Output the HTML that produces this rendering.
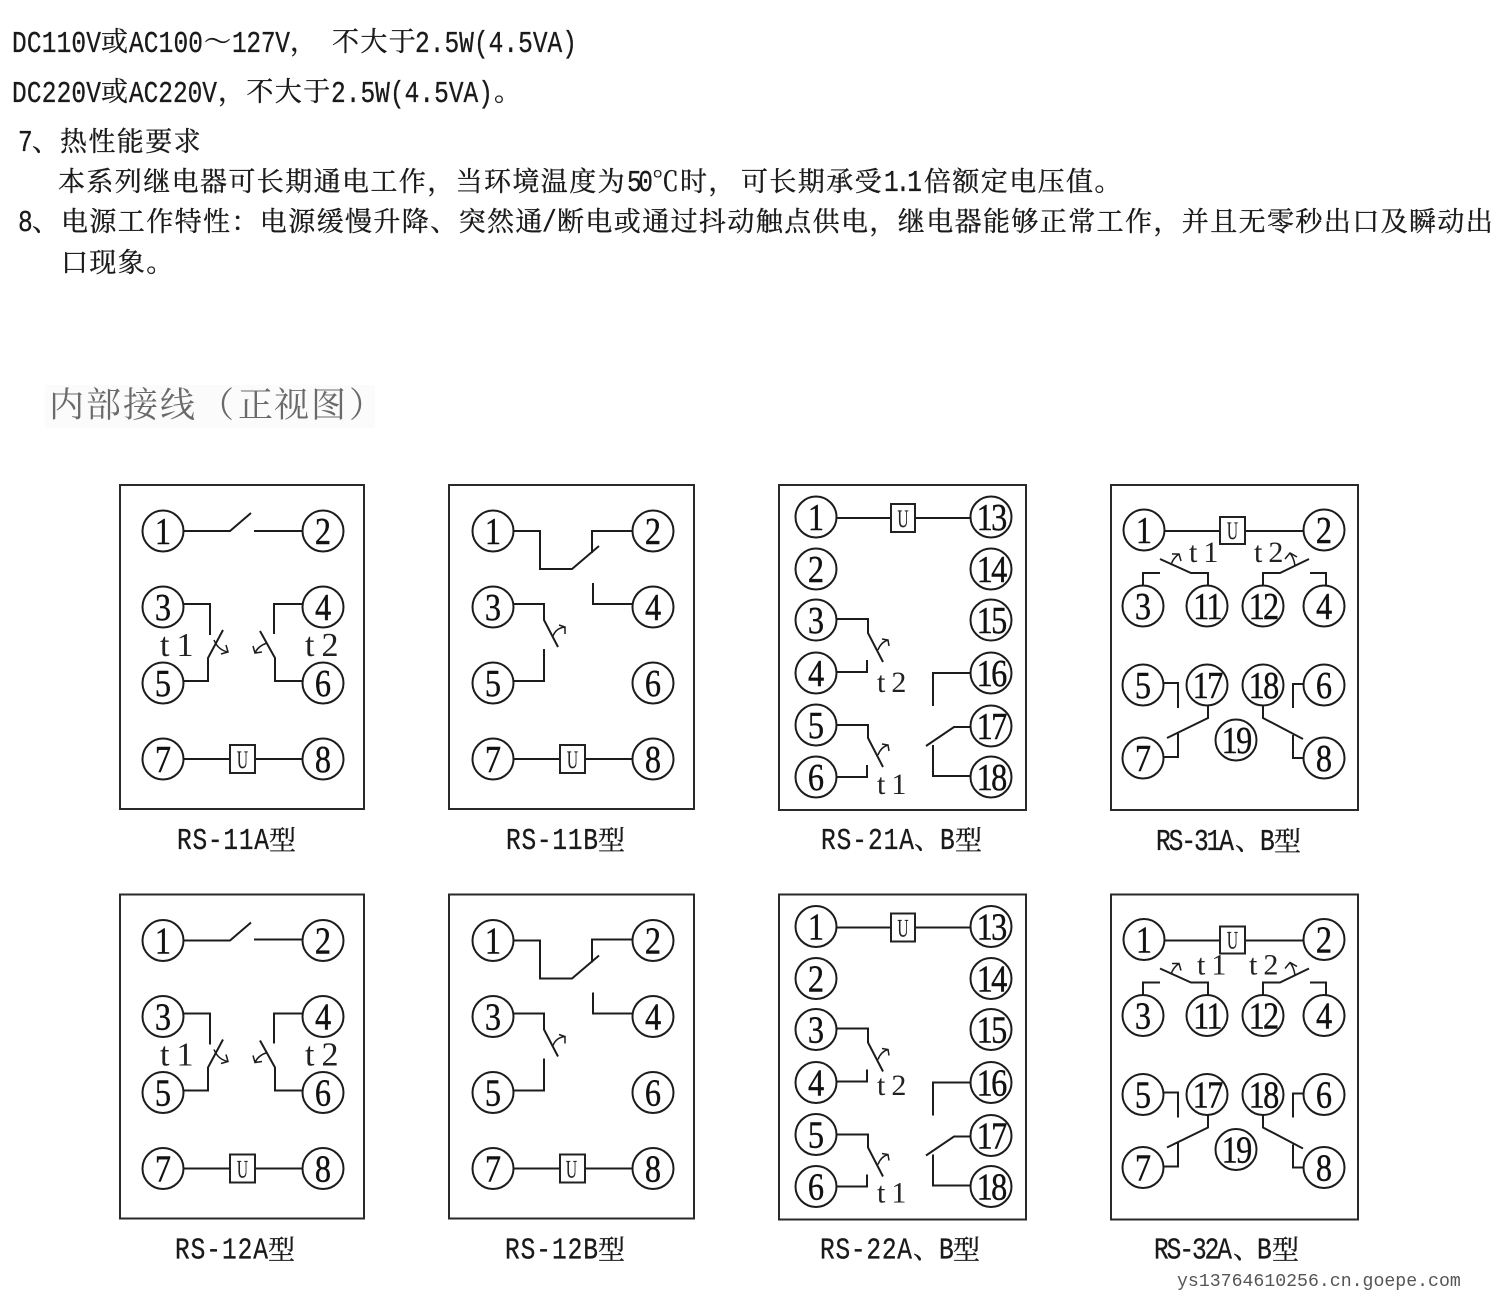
<!DOCTYPE html>
<html lang="zh">
<head>
<meta charset="utf-8">
<title>内部接线（正视图）</title>
<style>
html,body{margin:0;padding:0;background:#fff}
svg{display:block}
.c{font-family:"Noto Serif CJK SC",serif;font-size:27px;fill:#1a1a1a;stroke:#1a1a1a;stroke-width:.35;letter-spacing:1.4px}
.l{font-family:"Liberation Mono",monospace;font-size:24.5px;fill:#1a1a1a;stroke:#1a1a1a;stroke-width:.25}
.h{font-family:"Noto Serif CJK SC","Noto Sans CJK SC",serif;font-size:35px;fill:#6a6a6a}
.m{font-family:"Noto Serif CJK SC",serif;font-size:27px;fill:#1a1a1a;stroke:#1a1a1a;stroke-width:.35}
.p{fill:none;stroke:#2a2a2a;stroke-width:2}
.w{fill:none;stroke:#1c1c1c;stroke-width:2}
.a{fill:none;stroke:#1c1c1c;stroke-width:1.5}
circle{fill:#fff;stroke:#1c1c1c;stroke-width:2}
.b{fill:#fff;stroke:#222;stroke-width:2}
.n{font-family:"Liberation Serif",serif;font-size:38px;fill:#111;stroke:#111;stroke-width:.4;text-anchor:middle;transform-box:fill-box;transform-origin:center;transform:scaleX(.85)}
.d{letter-spacing:-2px}
.u{font-family:"Liberation Serif",serif;font-size:25px;fill:#222;stroke:#222;stroke-width:.2;text-anchor:middle;transform-box:fill-box;transform-origin:center;transform:scaleX(.62)}
.t{font-family:"Liberation Serif",serif;font-size:34px;fill:#222;letter-spacing:7px}
.s{font-family:"Liberation Serif",serif;font-size:30px;fill:#222;letter-spacing:6px}
.wm{font-family:"Liberation Mono",monospace;font-size:18.2px;fill:#555}
</style>
</head>
<body>
<svg xmlns="http://www.w3.org/2000/svg" width="1495" height="1299" viewBox="0 0 1495 1299">
<rect width="1495" height="1299" fill="#fff"/>

<text class="l" transform="translate(12,52) scale(1,1.25)" textLength="89">DC110V</text>
<text class="m" x="101" y="51">或</text>
<text class="l" transform="translate(129,52) scale(1,1.25)" textLength="74">AC100</text>
<text class="m" x="204" y="51">～</text>
<text class="l" transform="translate(232,52) scale(1,1.25)" textLength="58">127V</text>
<text class="m" x="290" y="51">，</text>
<text class="c" x="332" y="51">不大于</text>
<text class="l" transform="translate(415,52) scale(1,1.25)" textLength="162">2.5W(4.5VA)</text>

<text class="l" transform="translate(12,102) scale(1,1.25)" textLength="89">DC220V</text>
<text class="m" x="101" y="101">或</text>
<text class="l" transform="translate(129,102) scale(1,1.25)" textLength="88">AC220V</text>
<text class="c" x="218" y="101">，不大于</text>
<text class="l" transform="translate(331,102) scale(1,1.25)" textLength="162">2.5W(4.5VA)</text>
<text class="m" x="494" y="101">。</text>

<text class="l" transform="translate(18,151) scale(1,1.25)">7</text>
<text class="m" x="32" y="151">、</text>
<text class="c" x="60" y="151">热性能要求</text>

<text class="c" x="58" y="191">本系列继电器可长期通电工作，当环境温度为</text>
<text class="l" transform="translate(627,191) scale(1,1.25)" textLength="26">50</text>
<text class="m" x="652" y="191">℃</text>
<text class="c" x="680" y="191">时，</text>
<text class="c" x="741" y="191">可长期承受</text>
<text class="l" transform="translate(884,191) scale(1,1.25)" textLength="38">1.1</text>
<text class="c" x="924" y="191">倍额定电压值。</text>

<text class="l" transform="translate(18,231) scale(1,1.25)">8</text>
<text class="m" x="32" y="231">、</text>
<text class="c" x="61" y="231">电源工作特性：电源缓慢升降、突然通</text>
<text class="l" transform="translate(542,231) scale(1,1.25)">/</text>
<text class="c" x="557" y="231">断电或通过抖动触点供电，继电器能够正常工作，并且无零秒出口及瞬动出</text>
<text class="c" x="61" y="272">口现象。</text>

<rect x="45" y="385" width="330" height="43" fill="#fbfbfb"/>
<text class="h" x="49 86 123 160 199 238 274 311 349" y="417">内部接线（正视图）</text>

<!-- RS-11A -->
<g>
<rect class="p" x="120" y="485" width="244" height="324"/>
<path class="w" d="M184 531H230L251 513M254 531H303M184 604H210V635M223 630L208 658V681H184M303 604H274V634M260 631L275 658V681H303"/>
<path class="a" d="M214 640Q218 650 228 652M221 654L228 652L226 645M267 643Q258 646 255 653M253 646L255 653L262 652"/>
<path class="w" d="M184 759H303"/>
<rect class="b" x="230" y="745" width="25" height="28"/>
<text class="u" x="242.5" y="768">U</text>
<circle cx="163" cy="531" r="20.5"/><text class="n" x="163" y="544">1</text>
<circle cx="323" cy="531" r="20.5"/><text class="n" x="323" y="544">2</text>
<circle cx="163" cy="607" r="20.5"/><text class="n" x="163" y="620">3</text>
<circle cx="323" cy="607" r="20.5"/><text class="n" x="323" y="620">4</text>
<circle cx="163" cy="683" r="20.5"/><text class="n" x="163" y="696">5</text>
<circle cx="323" cy="683" r="20.5"/><text class="n" x="323" y="696">6</text>
<circle cx="163" cy="759" r="20.5"/><text class="n" x="163" y="772">7</text>
<circle cx="323" cy="759" r="20.5"/><text class="n" x="323" y="772">8</text>
<text class="t" x="160" y="656">t1</text>
<text class="t" x="305" y="656">t2</text>
<text class="l" transform="translate(177,849) scale(1,1.25)" textLength="92">RS-11A</text>
<text class="m" x="269" y="850">型</text>
</g>

<!-- RS-11B -->
<g>
<rect class="p" x="449" y="485" width="245" height="324"/>
<path class="w" d="M513 531H540V569H572L599 546M633 531H592V553M593 583V604H633M513 604H544V620L558 647M513 681H544V649"/>
<path class="a" d="M553 636Q556 628 565 627M559 625L565 627L565 634"/>
<path class="w" d="M513 759H633"/>
<rect class="b" x="560" y="745" width="25" height="28"/>
<text class="u" x="572.5" y="768">U</text>
<circle cx="493" cy="531" r="20.5"/><text class="n" x="493" y="544">1</text>
<circle cx="653" cy="531" r="20.5"/><text class="n" x="653" y="544">2</text>
<circle cx="493" cy="607" r="20.5"/><text class="n" x="493" y="620">3</text>
<circle cx="653" cy="607" r="20.5"/><text class="n" x="653" y="620">4</text>
<circle cx="493" cy="683" r="20.5"/><text class="n" x="493" y="696">5</text>
<circle cx="653" cy="683" r="20.5"/><text class="n" x="653" y="696">6</text>
<circle cx="493" cy="759" r="20.5"/><text class="n" x="493" y="772">7</text>
<circle cx="653" cy="759" r="20.5"/><text class="n" x="653" y="772">8</text>
<text class="l" transform="translate(506,849) scale(1,1.25)" textLength="92">RS-11B</text>
<text class="m" x="598" y="850">型</text>
</g>

<!-- RS-21A,B -->
<g>
<rect class="p" x="779" y="485" width="247" height="325"/>
<path class="w" d="M837 518H970M837 619H868V633L883 662M837 672H867V660M970 673H933V706M837 725H868V738L883 767M837 777H867V765M970 727H954L926 746M970 776H933V745"/>
<path class="a" d="M878 650Q881 642 888 640M882 639L888 640L889 646M878 755Q881 747 888 745M882 744L888 745L889 751"/>
<rect class="b" x="891" y="504" width="24" height="28"/>
<text class="u" x="903" y="527">U</text>
<circle cx="816" cy="517" r="20.5"/><text class="n" x="816" y="530">1</text>
<circle cx="991" cy="517" r="20.5"/><text class="n d" x="991" y="530">13</text>
<circle cx="816" cy="569" r="20.5"/><text class="n" x="816" y="582">2</text>
<circle cx="991" cy="569" r="20.5"/><text class="n d" x="991" y="582">14</text>
<circle cx="816" cy="620" r="20.5"/><text class="n" x="816" y="633">3</text>
<circle cx="991" cy="620" r="20.5"/><text class="n d" x="991" y="633">15</text>
<circle cx="816" cy="673" r="20.5"/><text class="n" x="816" y="686">4</text>
<circle cx="991" cy="673" r="20.5"/><text class="n d" x="991" y="686">16</text>
<circle cx="816" cy="725" r="20.5"/><text class="n" x="816" y="738">5</text>
<circle cx="991" cy="726" r="20.5"/><text class="n d" x="991" y="739">17</text>
<circle cx="816" cy="777" r="20.5"/><text class="n" x="816" y="790">6</text>
<circle cx="991" cy="777" r="20.5"/><text class="n d" x="991" y="790">18</text>
<text class="s" x="877" y="692">t2</text>
<text class="s" x="877" y="794">t1</text>
<text class="l" transform="translate(821,849) scale(1,1.25)" textLength="93">RS-21A</text>
<text class="m" x="914" y="849">、</text>
<text class="l" transform="translate(940,849) scale(1,1.25)">B</text>
<text class="m" x="955" y="850">型</text>
</g>

<!-- RS-31A,B -->
<g>
<rect class="p" x="1111" y="485" width="247" height="325"/>
<path class="w" d="M1164 531H1304M1160 559L1191 573H1208V586M1143 586V573H1160M1263 586V573H1280L1309 559M1310 573H1326V586M1163 683H1178V708M1208 706V718L1167 738M1163 757H1178V733M1263 705V718L1303 739M1303 758H1293V735M1303 684H1293V708"/>
<path class="a" d="M1171 565Q1173 558 1179 554M1172 554L1179 554L1181 561M1295 566Q1294 558 1290 553M1285 559L1290 553L1297 557"/>
<rect class="b" x="1220" y="517" width="25" height="27"/>
<text class="u" x="1232.5" y="539">U</text>
<circle cx="1144" cy="530" r="20.5"/><text class="n" x="1144" y="543">1</text>
<circle cx="1324" cy="530" r="20.5"/><text class="n" x="1324" y="543">2</text>
<circle cx="1143" cy="606" r="20.5"/><text class="n" x="1143" y="619">3</text>
<circle cx="1207" cy="606" r="20.5"/><text class="n d" x="1207" y="619">11</text>
<circle cx="1263" cy="606" r="20.5"/><text class="n d" x="1263" y="619">12</text>
<circle cx="1324" cy="606" r="20.5"/><text class="n" x="1324" y="619">4</text>
<circle cx="1143" cy="685" r="20.5"/><text class="n" x="1143" y="698">5</text>
<circle cx="1207" cy="685" r="20.5"/><text class="n d" x="1207" y="698">17</text>
<circle cx="1263" cy="685" r="20.5"/><text class="n d" x="1263" y="698">18</text>
<circle cx="1324" cy="685" r="20.5"/><text class="n" x="1324" y="698">6</text>
<circle cx="1143" cy="758" r="20.5"/><text class="n" x="1143" y="771">7</text>
<circle cx="1236" cy="740" r="20.5"/><text class="n d" x="1236" y="753">19</text>
<circle cx="1324" cy="758" r="20.5"/><text class="n" x="1324" y="771">8</text>
<text class="s" x="1189" y="562">t1</text>
<text class="s" x="1254" y="562">t2</text>
<text class="l" transform="translate(1156,850) scale(1,1.25)" textLength="78">RS-31A</text>
<text class="m" x="1235" y="850">、</text>
<text class="l" transform="translate(1260,850) scale(1,1.25)">B</text>
<text class="m" x="1274" y="851">型</text>
</g>

<!-- RS-12A -->
<g transform="translate(0,409.5)">
<rect class="p" x="120" y="485" width="244" height="324"/>
<path class="w" d="M184 531H230L251 513M254 530H303M184 604H210V635M223 630L208 658V681H184M303 604H274V634M260 631L275 658V681H303"/>
<path class="a" d="M214 640Q218 650 228 652M221 654L228 652L226 645M267 643Q258 646 255 653M253 646L255 653L262 652"/>
<path class="w" d="M184 759H303"/>
<rect class="b" x="230" y="745" width="25" height="28"/>
<text class="u" x="242.5" y="768">U</text>
<circle cx="163" cy="531" r="20.5"/><text class="n" x="163" y="544">1</text>
<circle cx="323" cy="531" r="20.5"/><text class="n" x="323" y="544">2</text>
<circle cx="163" cy="607" r="20.5"/><text class="n" x="163" y="620">3</text>
<circle cx="323" cy="607" r="20.5"/><text class="n" x="323" y="620">4</text>
<circle cx="163" cy="683" r="20.5"/><text class="n" x="163" y="696">5</text>
<circle cx="323" cy="683" r="20.5"/><text class="n" x="323" y="696">6</text>
<circle cx="163" cy="759" r="20.5"/><text class="n" x="163" y="772">7</text>
<circle cx="323" cy="759" r="20.5"/><text class="n" x="323" y="772">8</text>
<text class="t" x="160" y="656">t1</text>
<text class="t" x="305" y="656">t2</text>
<text class="l" transform="translate(175,849) scale(1,1.25)" textLength="93">RS-12A</text>
<text class="m" x="268" y="850">型</text>
</g>

<!-- RS-12B -->
<g transform="translate(0,409.5)">
<rect class="p" x="449" y="485" width="245" height="324"/>
<path class="w" d="M513 531H540V569H572L599 546M633 530H592V553M593 583V604H633M513 604H544V620L558 647M513 681H544V649"/>
<path class="a" d="M553 636Q556 628 565 627M559 625L565 627L565 634"/>
<path class="w" d="M513 759H633"/>
<rect class="b" x="560" y="745" width="25" height="28"/>
<text class="u" x="571.5" y="768">U</text>
<circle cx="493" cy="531" r="20.5"/><text class="n" x="493" y="544">1</text>
<circle cx="653" cy="531" r="20.5"/><text class="n" x="653" y="544">2</text>
<circle cx="493" cy="607" r="20.5"/><text class="n" x="493" y="620">3</text>
<circle cx="653" cy="607" r="20.5"/><text class="n" x="653" y="620">4</text>
<circle cx="493" cy="683" r="20.5"/><text class="n" x="493" y="696">5</text>
<circle cx="653" cy="683" r="20.5"/><text class="n" x="653" y="696">6</text>
<circle cx="493" cy="759" r="20.5"/><text class="n" x="493" y="772">7</text>
<circle cx="653" cy="759" r="20.5"/><text class="n" x="653" y="772">8</text>
<text class="l" transform="translate(505,849) scale(1,1.25)" textLength="93">RS-12B</text>
<text class="m" x="598" y="850">型</text>
</g>

<!-- RS-22A,B -->
<g transform="translate(0,409.5)">
<rect class="p" x="779" y="485" width="247" height="325"/>
<path class="w" d="M837 518H970M837 619H868V633L883 662M837 672H867V660M970 673H933V706M837 725H868V738L883 767M837 777H867V765M970 727H954L926 746M970 776H933V745"/>
<path class="a" d="M878 650Q881 642 888 640M882 639L888 640L889 646M878 755Q881 747 888 745M882 744L888 745L889 751"/>
<rect class="b" x="891" y="504" width="24" height="28"/>
<text class="u" x="903" y="527">U</text>
<circle cx="816" cy="517" r="20.5"/><text class="n" x="816" y="530">1</text>
<circle cx="991" cy="517" r="20.5"/><text class="n d" x="991" y="530">13</text>
<circle cx="816" cy="569" r="20.5"/><text class="n" x="816" y="582">2</text>
<circle cx="991" cy="569" r="20.5"/><text class="n d" x="991" y="582">14</text>
<circle cx="816" cy="620" r="20.5"/><text class="n" x="816" y="633">3</text>
<circle cx="991" cy="620" r="20.5"/><text class="n d" x="991" y="633">15</text>
<circle cx="816" cy="673" r="20.5"/><text class="n" x="816" y="686">4</text>
<circle cx="991" cy="673" r="20.5"/><text class="n d" x="991" y="686">16</text>
<circle cx="816" cy="725" r="20.5"/><text class="n" x="816" y="738">5</text>
<circle cx="991" cy="726" r="20.5"/><text class="n d" x="991" y="739">17</text>
<circle cx="816" cy="777" r="20.5"/><text class="n" x="816" y="790">6</text>
<circle cx="991" cy="777" r="20.5"/><text class="n d" x="991" y="790">18</text>
<text class="s" x="877" y="685.5">t2</text>
<text class="s" x="877" y="793">t1</text>
<text class="l" transform="translate(820,849) scale(1,1.25)" textLength="92">RS-22A</text>
<text class="m" x="913" y="849">、</text>
<text class="l" transform="translate(939,849) scale(1,1.25)">B</text>
<text class="m" x="953" y="850">型</text>
</g>

<!-- RS-32A,B -->
<g transform="translate(0,409.5)">
<rect class="p" x="1111" y="485" width="247" height="325"/>
<path class="w" d="M1164 531H1304M1160 559L1191 573H1208V586M1143 586V573H1160M1263 586V573H1280L1309 559M1310 573H1326V586M1163 683H1178V708M1208 706V718L1167 738M1163 757H1178V733M1263 705V718L1303 739M1303 758H1293V735M1303 684H1293V708"/>
<path class="a" d="M1171 565Q1173 558 1179 554M1172 554L1179 554L1181 561M1295 566Q1294 558 1290 553M1285 559L1290 553L1297 557"/>
<rect class="b" x="1220" y="517" width="25" height="27"/>
<text class="u" x="1232.5" y="539">U</text>
<circle cx="1144" cy="530" r="20.5"/><text class="n" x="1144" y="543">1</text>
<circle cx="1324" cy="530" r="20.5"/><text class="n" x="1324" y="543">2</text>
<circle cx="1143" cy="606" r="20.5"/><text class="n" x="1143" y="619">3</text>
<circle cx="1207" cy="606" r="20.5"/><text class="n d" x="1207" y="619">11</text>
<circle cx="1263" cy="606" r="20.5"/><text class="n d" x="1263" y="619">12</text>
<circle cx="1324" cy="606" r="20.5"/><text class="n" x="1324" y="619">4</text>
<circle cx="1143" cy="685" r="20.5"/><text class="n" x="1143" y="698">5</text>
<circle cx="1207" cy="685" r="20.5"/><text class="n d" x="1207" y="698">17</text>
<circle cx="1263" cy="685" r="20.5"/><text class="n d" x="1263" y="698">18</text>
<circle cx="1324" cy="685" r="20.5"/><text class="n" x="1324" y="698">6</text>
<circle cx="1143" cy="758" r="20.5"/><text class="n" x="1143" y="771">7</text>
<circle cx="1236" cy="740" r="20.5"/><text class="n d" x="1236" y="753">19</text>
<circle cx="1324" cy="758" r="20.5"/><text class="n" x="1324" y="771">8</text>
<text class="s" x="1197" y="565">t1</text>
<text class="s" x="1249" y="565">t2</text>
<text class="l" transform="translate(1154,849) scale(1,1.25)" textLength="78">RS-32A</text>
<text class="m" x="1233" y="849">、</text>
<text class="l" transform="translate(1257,849) scale(1,1.25)">B</text>
<text class="m" x="1272" y="850">型</text>
</g>

<text class="wm" x="1177" y="1286">ys13764610256.cn.goepe.com</text>
</svg>
</body>
</html>
